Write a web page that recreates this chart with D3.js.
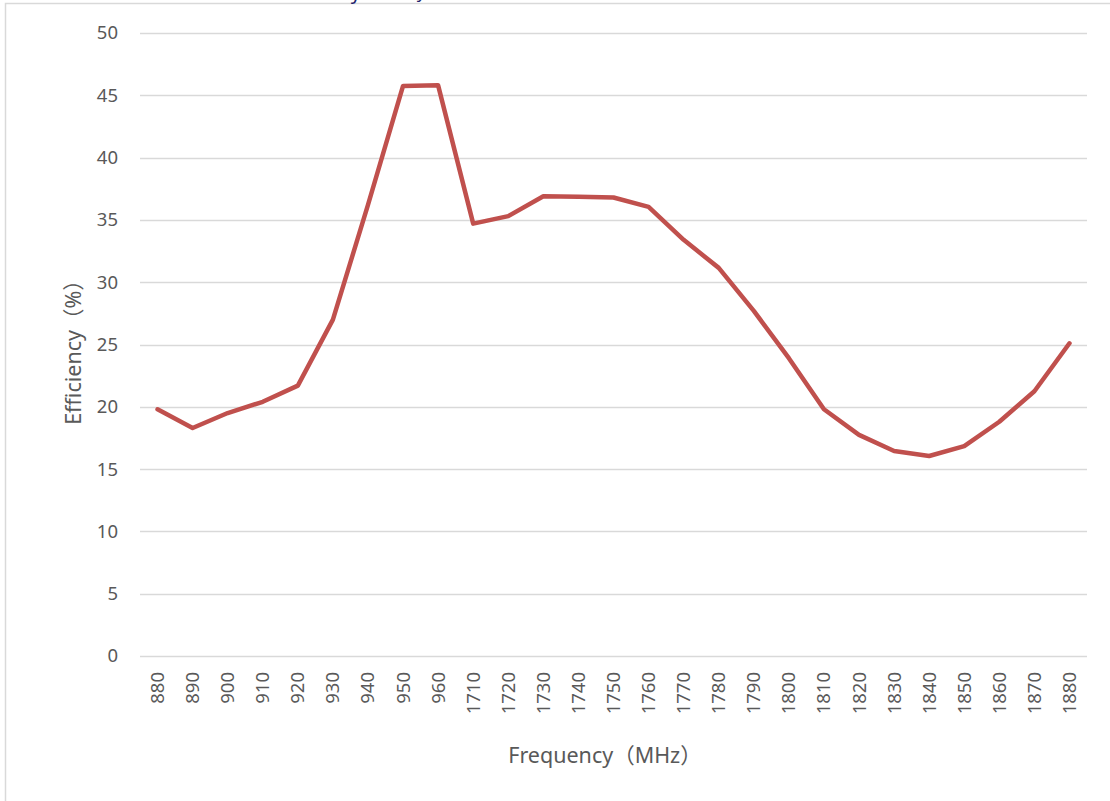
<!DOCTYPE html>
<html>
<script src="https://d3js.org/d3.v7.min.js"></script>
<style>
  body {margin:0; background:#fff;}
  text {font-family:"Noto Sans","Noto Sans CJK SC",sans-serif; fill:#595959;}
</style>
<body>
<svg width=1110 height=801></svg>
<script>
    const freqs = ["880","890","900","910","920","930","940","950","960",
        "1710","1720","1730","1740","1750","1760","1770","1780","1790","1800",
        "1810","1820","1830","1840","1850","1860","1870","1880"];
    const efficiency = [19.8,18.3,19.5,20.4,21.7,27.0,36.2,45.75,45.8,
        34.7,35.3,36.9,36.85,36.8,36.05,33.4,31.15,27.7,23.9,
        19.8,17.75,16.45,16.05,16.85,18.8,21.25,25.1];
    const yTicks = [0,5,10,15,20,25,30,35,40,45,50];

    const svg = d3.select("svg");
    const pLeft = 140, pRight = 1087, pTop = 33, pBottom = 656;

    // outer chart border (partly off page)
    svg.append("rect")
        .attr("x", 5.5).attr("y", 3.5)
        .attr("width", 1200).attr("height", 900)
        .attr("fill", "none").attr("stroke", "#d9d9d9").attr("stroke-width", 1.5);

    // title above the page edge, only its descenders show
    svg.append("text")
        .attr("x", 361).attr("y", -1)
        .attr("text-anchor", "end")
        .style("fill", "#1f1f6e").style("font-size", "20px")
        .text("Efficiency");
    svg.append("text")
        .attr("x", 426).attr("y", -2)
        .attr("text-anchor", "end")
        .style("fill", "#1f1f6e").style("font-size", "18px")
        .text("Array");

    const x = d3.scaleBand().domain(freqs).range([pLeft, pRight]);
    const y = d3.scaleLinear().domain([0, 50]).range([pBottom, pTop]);

    svg.append("g")
        .selectAll("line")
        .data(yTicks)
        .enter().append("line")
        .attr("x1", pLeft).attr("x2", pRight)
        .attr("y1", d => Math.round(y(d)) + 0.5)
        .attr("y2", d => Math.round(y(d)) + 0.5)
        .attr("stroke", "#d9d9d9").attr("stroke-width", 1.3);

    const yAxis = d3.axisLeft(y).tickValues(yTicks).tickSize(0).tickPadding(0);
    const gy = svg.append("g")
        .attr("transform", "translate(118,0)")
        .call(yAxis);
    gy.select(".domain").remove();
    gy.selectAll("text").style("font-size", "18.5px").style("fill", "#595959");

    const xAxis = d3.axisBottom(x).tickSize(0);
    const gx = svg.append("g")
        .attr("transform", `translate(0,${pBottom})`)
        .call(xAxis);
    gx.select(".domain").remove();
    gx.selectAll("text")
        .style("font-size", "18.5px").style("fill", "#595959")
        .attr("text-anchor", "end")
        .attr("transform", "rotate(-90)")
        .attr("x", -16).attr("y", 0).attr("dy", "0.35em");

    const line = d3.line()
        .x((d, i) => x(freqs[i]) + x.bandwidth() / 2)
        .y(d => y(d));

    svg.append("path")
        .datum(efficiency)
        .attr("d", line)
        .attr("fill", "none")
        .attr("stroke", "#c0504d")
        .attr("stroke-width", 4.5)
        .attr("stroke-linejoin", "round")
        .attr("stroke-linecap", "round");

    svg.append("text")
        .attr("transform", "translate(81,347) rotate(-90)")
        .attr("text-anchor", "middle")
        .style("font-size", "21.5px")
        .text("Efficiency（%）");

    svg.append("text")
        .attr("x", 605).attr("y", 763)
        .attr("text-anchor", "middle")
        .style("font-size", "21.5px")
        .text("Frequency（MHz）");
</script>
</body>
</html>
